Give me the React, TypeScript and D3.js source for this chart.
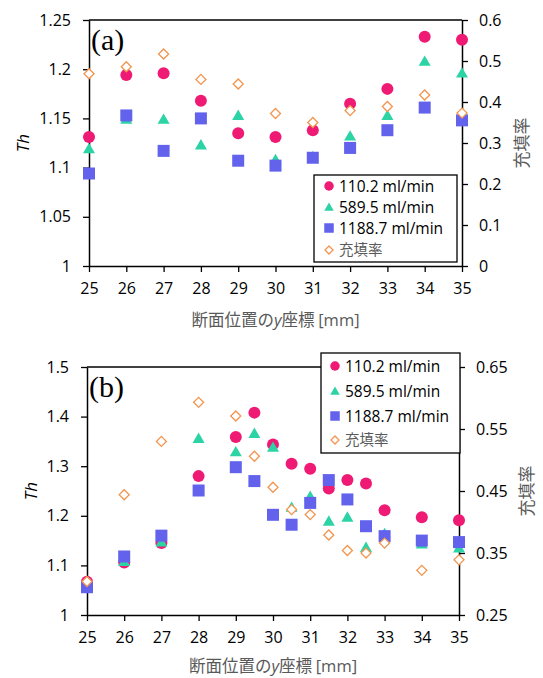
import React, { useEffect, useRef } from 'react'
import * as d3 from 'd3'

// (a) values
const xA = [25, 26, 27, 28, 29, 30, 31, 32, 33, 34, 35]
const a110 = [1.131, 1.194, 1.196, 1.168, 1.135, 1.131, 1.138, 1.165, 1.180, 1.233, 1.230]
const a589 = [1.119, 1.149, 1.149, 1.123, 1.153, 1.108, 1.111, 1.132, 1.153, 1.208, 1.196]
const a1188 = [1.094, 1.153, 1.117, 1.150, 1.107, 1.102, 1.110, 1.120, 1.138, 1.161, 1.148]
const aFill = [0.469, 0.486, 0.517, 0.455, 0.444, 0.372, 0.350, 0.379, 0.389, 0.417, 0.373]

// (b)
const xB = [25, 26, 27, 28, 29, 29.5, 30, 30.5, 31, 31.5, 32, 32.5, 33, 34, 35]
const b110 = [1.067, 1.106, 1.145, 1.280, 1.359, 1.408, 1.344, 1.305, 1.295, 1.255, 1.272, 1.265, 1.211, 1.197, 1.191]
const b589 = [1.065, 1.108, 1.147, 1.356, 1.329, 1.366, 1.338, 1.217, 1.239, 1.189, 1.197, 1.136, 1.164, 1.143, 1.135]
const b1188 = [1.056, 1.118, 1.160, 1.251, 1.298, 1.270, 1.202, 1.182, 1.226, 1.272, 1.233, 1.179, 1.159, 1.150, 1.147]
const bFill = [0.304, 0.444, 0.530, 0.593, 0.571, 0.506, 0.456, 0.420, 0.412, 0.379, 0.354, 0.350, 0.366, 0.322, 0.339]

const xTicks = [25, 26, 27, 28, 29, 30, 31, 32, 33, 34, 35]
const aLeftTicks = [1, 1.05, 1.1, 1.15, 1.2, 1.25]
const aRightTicks = [0, 0.1, 0.2, 0.3, 0.4, 0.5, 0.6]
const bLeftTicks = [1, 1.1, 1.2, 1.3, 1.4, 1.5]
const bRightTicks = [0.25, 0.35, 0.45, 0.55, 0.65]
const seriesNames = ['110.2 ml/min', '589.5 ml/min', '1188.7 ml/min', '充填率']

const colors = ['#ee1a73', '#2bd3a5', '#6262ec', '#f29550']
const kinds = ['circle', 'triangle', 'square', 'diamond']
const FONT = '"Open Sans", sans-serif'
const CJK = '"Noto Sans CJK JP", sans-serif'
const GRAY = '#595959'

const marker = (g, kind, x, y, s, color) => {
  let path
  if (kind === 'circle') path = d3.symbol(d3.symbolCircle, Math.PI * (s / 2) ** 2)()
  else if (kind === 'triangle') path = d3.symbol(d3.symbolTriangle, (Math.sqrt(3) / 4) * s * s)()
  else if (kind === 'square') path = d3.symbol(d3.symbolSquare, s * s)()
  else path = d3.symbol(d3.symbolSquare, (s * s) / 2)()
  const p = g.append('path').attr('d', path)
  if (kind === 'diamond') {
    p.attr('transform', `translate(${x},${y}) rotate(45)`)
      .attr('fill', 'white').attr('stroke', color).attr('stroke-width', 1.3)
  } else if (kind === 'triangle') {
    p.attr('transform', `translate(${x},${y + 1})`).attr('fill', color)
  } else {
    p.attr('transform', `translate(${x},${y})`).attr('fill', color)
  }
}

const drawPanel = (svg, cfg) => {
  const { left, right, top, bottom, xs, series, fill, lTicks, rTicks, label, legend, thX, fillTitleX, xTitleY } = cfg
  const x = d3.scaleLinear().domain([25, 35]).range([left, right])
  const yL = d3.scaleLinear().domain([lTicks[0], lTicks[lTicks.length - 1]]).range([bottom, top])
  const yR = d3.scaleLinear().domain([rTicks[0], rTicks[rTicks.length - 1]]).range([bottom, top])

  // plot area top border
  svg.append('line').attr('x1', left).attr('x2', right).attr('y1', top).attr('y2', top)
    .attr('stroke', '#000').attr('stroke-width', 1.3)

  const style = (ax) => {
    ax.select('.domain').attr('stroke', '#000').attr('stroke-width', 1.5)
    ax.selectAll('.tick line').attr('stroke', '#000').attr('stroke-width', 1.3)
    ax.selectAll('.tick text').attr('fill', '#000').style('font-family', FONT).style('font-size', '16px')
  }

  svg.append('g').attr('transform', `translate(0,${bottom})`)
    .call(d3.axisBottom(x).tickValues(xTicks).tickSize(6).tickSizeOuter(0).tickPadding(11).tickFormat(String))
    .call(style)
  svg.append('g').attr('transform', `translate(${left},0)`)
    .call(d3.axisLeft(yL).tickValues(lTicks).tickSize(6).tickSizeOuter(0).tickPadding(12).tickFormat(String))
    .call(style)
  svg.append('g').attr('transform', `translate(${right},0)`)
    .call(d3.axisRight(yR).tickValues(rTicks).tickSize(6).tickSizeOuter(0).tickPadding(11).tickFormat(String))
    .call(style)

  // markers
  const pts = svg.append('g')
  series.forEach((vals, i) => {
    vals.forEach((v, j) => marker(pts, kinds[i], x(xs[j]), yL(v), 12, colors[i]))
  })
  fill.forEach((v, j) => marker(pts, 'diamond', x(xs[j]), yR(v), 10, colors[3]))

  // panel label
  svg.append('text').attr('x', left + 2).attr('y', top + 30).text(label)
    .style('font-family', '"Liberation Serif", "Times New Roman", serif').style('font-size', '30px').attr('fill', '#000')

  // axis titles
  const midY = (top + bottom) / 2
  svg.append('text').attr('transform', `translate(${thX},${midY}) rotate(-90)`)
    .attr('text-anchor', 'middle').attr('dy', '0.35em')
    .style('font-family', FONT).style('font-size', '17px').style('font-style', 'italic')
    .attr('fill', '#000').text('Th')
  svg.append('text').attr('transform', `translate(${fillTitleX},${midY}) rotate(-90)`)
    .attr('text-anchor', 'middle').attr('dy', '0.35em')
    .style('font-family', CJK).style('font-size', '17px')
    .attr('fill', GRAY).text('充填率')
  const xt = svg.append('text').attr('x', (left + right) / 2).attr('y', xTitleY)
    .attr('text-anchor', 'middle').attr('dy', '0.35em')
    .style('font-family', CJK).style('font-size', '16.5px').attr('fill', GRAY)
  xt.append('tspan').text('断面位置の')
  xt.append('tspan').style('font-style', 'italic').style('font-family', FONT).text('y')
  xt.append('tspan').text('座標 ')
  xt.append('tspan').style('font-family', FONT).text('[mm]')

  // legend
  const lg = svg.append('g')
  lg.append('rect').attr('x', legend.x0).attr('y', legend.y0)
    .attr('width', legend.x1 - legend.x0).attr('height', legend.y1 - legend.y0)
    .attr('fill', 'white').attr('stroke', '#000').attr('stroke-width', 1.3)
  seriesNames.forEach((name, i) => {
    const yy = legend.rows[i]
    marker(lg, kinds[i], legend.mx, yy, i === 3 ? 8 : 9.5, colors[i])
    lg.append('text').attr('x', legend.tx).attr('y', yy).attr('dy', '0.36em')
      .style('font-family', i === 3 ? CJK : FONT)
      .style('font-size', i === 3 ? '14.5px' : '15.5px').attr('fill', i === 3 ? GRAY : '#000').text(name)
  })
}

const App = () => {
  const ref = useRef(null)

  useEffect(() => {
    const svg = d3.select(ref.current)
    svg.selectAll('*').remove()

    drawPanel(svg, {
      left: 89, right: 462, top: 20, bottom: 266,
      xs: xA, series: [a110, a589, a1188], fill: aFill,
      lTicks: aLeftTicks, rTicks: aRightTicks, label: '(a)',
      thX: 23, fillTitleX: 522, xTitleY: 320,
      legend: { x0: 314, x1: 457, y0: 175, y1: 262, mx: 329, tx: 339, rows: [186, 207, 228, 250] },
    })
    drawPanel(svg, {
      left: 87, right: 459, top: 367, bottom: 615,
      xs: xB, series: [b110, b589, b1188], fill: bFill,
      lTicks: bLeftTicks, rTicks: bRightTicks, label: '(b)',
      thX: 31, fillTitleX: 527, xTitleY: 666,
      legend: { x0: 321, x1: 460, y0: 353, y1: 453, mx: 335, tx: 345, rows: [366, 391, 416, 440] },
    })
  }, [])

  return (
    <svg ref={ref} width={543} height={678}
      style={{ position: 'absolute', left: 0, top: 0, background: 'white' }} />
  )
}

export default App
